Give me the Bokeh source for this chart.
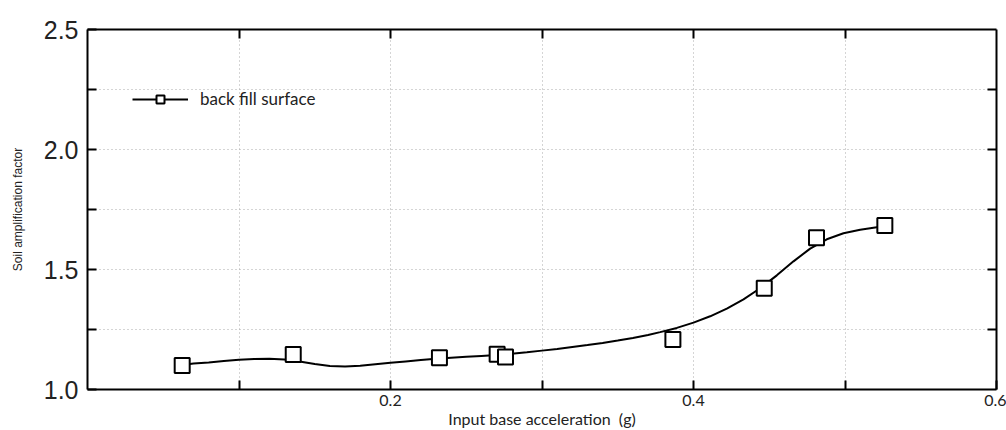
from bokeh.plotting import figure
from bokeh.models import (Range1d, LinearAxis, FixedTicker, Legend, LegendItem, Grid,
                          PrintfTickFormatter)
from bokeh.embed import file_html
from bokeh.resources import INLINE

# measured points (squares)
acc = [0.0625, 0.1358, 0.2323, 0.2704, 0.2759, 0.3864, 0.4467, 0.4812, 0.5263]
amp = [1.100, 1.146, 1.132, 1.147, 1.135, 1.208, 1.422, 1.632, 1.683]

# smooth fitted curve
curve_x = [0.0625, 0.07, 0.08, 0.09, 0.10, 0.11, 0.12, 0.13, 0.14, 0.15, 0.16,
           0.17, 0.18, 0.19, 0.20, 0.21, 0.22, 0.23, 0.24, 0.25, 0.26, 0.27,
           0.28, 0.29, 0.30, 0.31, 0.32, 0.33, 0.34, 0.35, 0.36, 0.37, 0.378,
           0.389, 0.400, 0.411, 0.422, 0.433, 0.444, 0.455, 0.466, 0.477,
           0.488, 0.499, 0.510, 0.521, 0.5267]
curve_y = [1.102, 1.108, 1.113, 1.119, 1.124, 1.127, 1.128, 1.125, 1.117, 1.106, 1.098,
           1.096, 1.099, 1.105, 1.111, 1.117, 1.123, 1.128, 1.132, 1.136, 1.140, 1.144,
           1.149, 1.155, 1.162, 1.169, 1.177, 1.185, 1.194, 1.204, 1.215, 1.227, 1.239,
           1.2566, 1.2786, 1.305, 1.337, 1.3755, 1.4217, 1.4756, 1.534, 1.587,
           1.626, 1.651, 1.666, 1.676, 1.680]

x_major = [0.2, 0.4, 0.6]
x_minor = [0.1, 0.3, 0.5]
y_major = [1.0, 1.5, 2.0, 2.5]
y_minor = [1.25, 1.75, 2.25]
x_all = [0.1, 0.2, 0.3, 0.4, 0.5]
y_all = [1.25, 1.5, 1.75, 2.0, 2.25]

series_name = "back fill surface"
x_title = "Input base acceleration \u00a0(g)"
y_title = "Soil amplification factor"

p = figure(width=1006, height=430, output_backend="svg", toolbar_location=None,
           x_range=Range1d(0, 0.6), y_range=Range1d(1.0, 2.5),
           min_border_left=87, min_border_right=10, min_border_top=29, min_border_bottom=41,
           x_axis_type=None, y_axis_type=None)
p.outline_line_color = None
p.background_fill_color = "white"
p.border_fill_color = "white"

def style_axis(ax, ticker):
    ax.ticker = ticker
    ax.axis_line_color = "black"
    ax.axis_line_width = 2
    ax.major_tick_in = 9
    ax.major_tick_out = 0
    ax.major_tick_line_width = 2
    ax.major_tick_line_color = "black"
    ax.minor_tick_in = 9
    ax.minor_tick_out = 0
    ax.minor_tick_line_width = 2
    ax.minor_tick_line_color = "black"

xb = LinearAxis()
style_axis(xb, FixedTicker(ticks=x_major, minor_ticks=x_minor))
xb.formatter = PrintfTickFormatter(format="%.1f")
xb.major_label_text_font = "Lato"
xb.major_label_text_font_size = "16px"
xb.major_label_text_color = "#222222"
xb.major_label_standoff = 5
xb.axis_label = x_title
xb.axis_label_text_font = "Lato"
xb.axis_label_text_font_size = "16px"
xb.axis_label_text_font_style = "normal"
xb.axis_label_text_color = "#222222"
xb.axis_label_standoff = 0
p.add_layout(xb, "below")

yl = LinearAxis()
style_axis(yl, FixedTicker(ticks=y_major, minor_ticks=y_minor))
yl.formatter = PrintfTickFormatter(format="%.1f")
yl.major_label_text_font = "Liberation Sans"
yl.major_label_text_font_size = "25px"
yl.major_label_text_color = "#222222"
yl.major_label_standoff = 9
yl.axis_label = y_title
yl.axis_label_text_font = "Liberation Sans"
yl.axis_label_text_font_size = "12px"
yl.axis_label_text_font_style = "normal"
yl.axis_label_text_color = "#222222"
yl.axis_label_standoff = 16
p.add_layout(yl, "left")

xt = LinearAxis()
style_axis(xt, FixedTicker(ticks=[], minor_ticks=x_all))
p.add_layout(xt, "above")

yr = LinearAxis()
style_axis(yr, FixedTicker(ticks=[], minor_ticks=y_all))
p.add_layout(yr, "right")

gx = Grid(dimension=0, ticker=FixedTicker(ticks=x_all),
          grid_line_color="#aaaaaa", grid_line_dash="1 3", grid_line_width=1)
gy = Grid(dimension=1, ticker=FixedTicker(ticks=y_all),
          grid_line_color="#aaaaaa", grid_line_dash="1 3", grid_line_width=1)
p.add_layout(gx)
p.add_layout(gy)

p.line(curve_x, curve_y, line_color="black", line_width=2)
p.scatter(acc, amp, marker="square", size=15, fill_color="white",
          line_color="black", line_width=2)

# legend glyphs (off-range renderers with legend-sized marker)
nan = float("nan")
lg_line = p.line([nan], [nan], line_color="black", line_width=2)
lg_sq = p.scatter([nan], [nan], marker="square", size=9, fill_color="white",
                  line_color="black", line_width=2)
legend = Legend(items=[LegendItem(label=series_name, renderers=[lg_line, lg_sq])],
                location=(45, 280), glyph_width=56, glyph_height=20,
                label_height=20, label_standoff=12, padding=0, margin=0,
                border_line_alpha=0, background_fill_alpha=0,
                label_text_font="Lato", label_text_font_size="17px",
                label_text_color="#222222")
p.add_layout(legend, "center")

open("out.html", "w").write(file_html(p, INLINE))
